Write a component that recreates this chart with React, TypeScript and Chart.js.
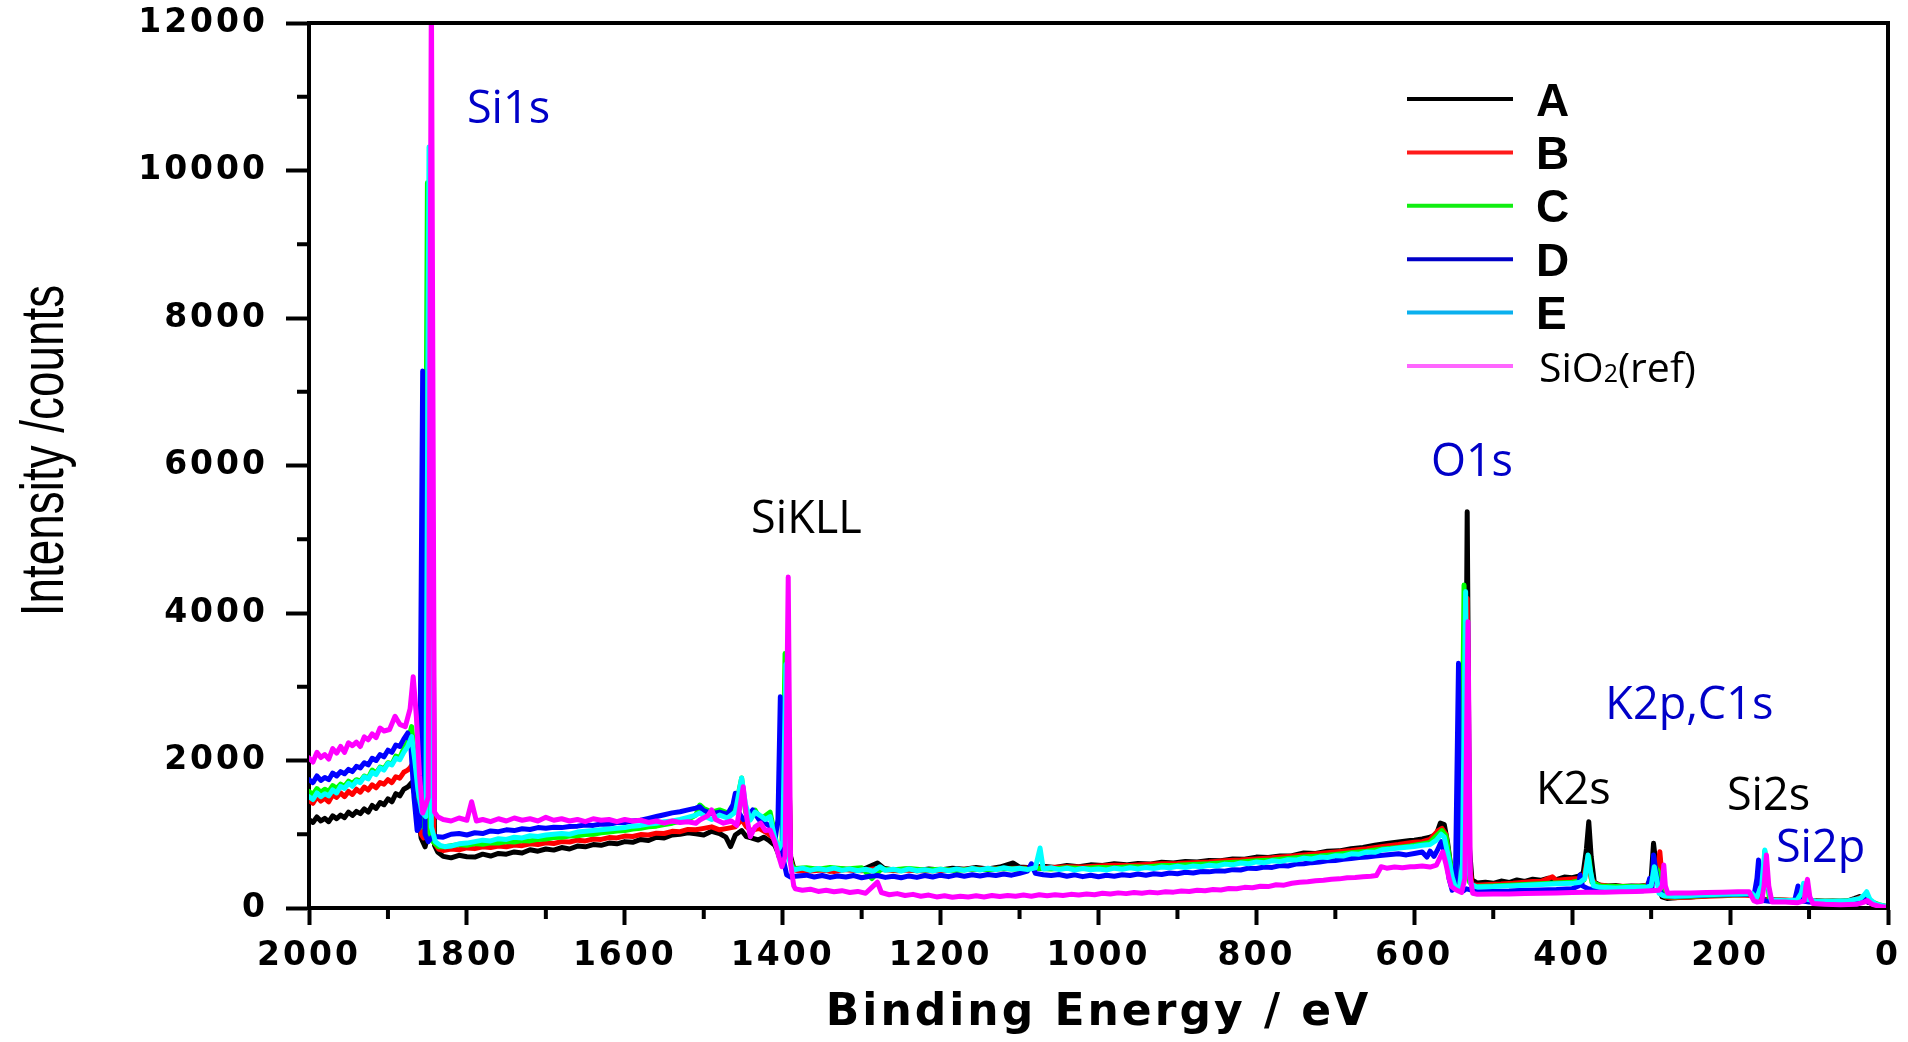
import React, { useEffect, useRef } from 'react';
import { Chart, registerables } from 'chart.js';

Chart.register(...registerables);

// ---------- data (binding energy eV, intensity counts) ----------
const SERIES_NAMES = ['A', 'B', 'C', 'D', 'E', 'SiO2(ref)'];
const SERIES_COLORS = ['#000000', '#ff0000', '#00ff00', '#0000ff', '#00ffff', '#ff00ff'];

const SERIES_A: number[][] = [
  [2000,1200],[1995,1160],[1990,1235],[1985,1180],[1980,1215],[1975,1170],[1970,1250],[1965,1210],[1960,1260],[1955,1225],[1950,1300],[1945,1255],[1940,1310],[1935,1280],[1930,1345],[1925,1300],[1920,1390],[1915,1350],[1910,1430],[1905,1400],[1900,1480],[1895,1440],[1890,1550],[1885,1520],[1880,1610],[1875,1640],[1870,1700],[1864,1450],[1858,950],[1853,830],[1849,1000],[1845,8000],[1841,850],[1837,760],[1830,700],[1820,680],[1810,715],[1800,695],[1790,690],[1780,730],[1770,705],[1760,740],[1750,730],[1740,760],[1730,745],[1720,790],[1710,770],[1700,800],[1690,785],[1680,820],[1670,800],[1660,840],[1650,830],[1640,860],[1630,850],[1620,880],[1610,870],[1600,900],[1590,890],[1580,930],[1570,915],[1560,960],[1550,950],[1540,990],[1530,1000],[1520,1020],[1510,1005],[1500,990],[1490,1040],[1480,1010],[1472,960],[1466,832],[1460,990],[1452,1050],[1446,967],[1440,950],[1431,922],[1424,960],[1418,920],[1410,850],[1404,700],[1398,1000],[1394,3000],[1390,700],[1386,540],[1384,520],
  [1370,510],[1355,530],[1340,500],[1325,530],[1310,515],[1295,540],[1280,610],[1272,540],[1260,515],[1245,525],[1230,505],[1215,530],[1200,515],[1185,540],[1170,525],[1155,550],[1140,530],[1125,555],[1108,610],[1100,555],[1085,545],[1070,565],[1055,550],[1040,575],[1025,560],[1010,585],[995,575],[980,600],[965,585],[950,605],[935,595],[920,620],[905,610],[890,630],[875,625],[860,645],[845,640],[830,665],[815,660],[800,690],[785,685],[770,705],[755,710],[740,745],[725,740],[710,770],[695,775],[680,805],[665,820],[650,850],[635,875],[620,895],[605,915],
  [600,920],[590,935],[580,960],[572,1000],[567,1150],[562,1130],[558,900],[553,500],[548,300],[544,260],[540,240],[536,500],[533,5374],[530,800],[527,380],[522,350],
  [520,340],[510,350],[500,335],[490,365],[480,345],[470,380],[460,360],[450,390],[440,375],[430,405],[420,385],[410,420],[400,410],[392,430],[386,480],[382,800],[379,1170],[376,700],[372,350],[365,310],[355,300],[345,305],[335,290],[325,300],[315,295],[305,310],[300,400],[297,877],[294,600],[290,250],[286,150],[280,130],[270,140],[260,150],[250,150],[240,160],[230,165],[220,175],[210,170],[200,180],[190,185],[180,190],[172,180],[166,120],[160,110],[150,115],[140,110],[130,105],[120,100],[110,100],[100,95],[90,100],[80,90],[70,95],[60,90],[50,100],[42,130],[36,155],[32,110],[25,80],[15,45],[8,25],[0,15],
];

const SERIES_B: number[][] = [
  [2000,1460],[1995,1420],[1990,1510],[1985,1450],[1980,1490],[1975,1440],[1970,1535],[1965,1500],[1960,1560],[1955,1510],[1950,1580],[1945,1540],[1940,1610],[1935,1570],[1930,1640],[1925,1600],[1920,1670],[1915,1630],[1910,1700],[1905,1680],[1900,1740],[1895,1700],[1890,1780],[1885,1760],[1880,1840],[1875,1870],[1872,1900],[1866,2000],[1862,1700],[1858,1000],[1855,950],[1850,1050],[1846,9000],[1842,900],[1836,800],[1830,780],[1820,800],[1810,790],[1800,815],[1790,805],[1780,830],[1770,820],[1760,840],[1750,830],[1740,855],[1730,845],[1720,870],[1710,860],[1700,885],[1690,875],[1680,900],[1670,895],[1660,920],[1650,910],[1640,935],[1630,930],[1620,955],[1610,950],[1600,975],[1590,970],[1580,995],[1570,990],[1560,1015],[1550,1010],[1540,1040],[1530,1035],[1520,1065],[1510,1060],[1500,1080],[1490,1100],[1480,1060],[1470,1080],[1460,1100],[1452,1200],[1446,1100],[1440,1050],[1430,1080],[1420,1020],[1412,950],[1405,750],[1400,700],[1397,900],[1394,3200],[1390,650],[1386,520],
  [1380,505],[1365,500],[1350,515],[1335,495],[1320,520],[1300,505],[1285,530],[1270,520],[1255,505],[1240,515],[1220,500],[1200,510],[1180,520],[1160,530],[1140,525],[1120,535],[1100,540],[1080,545],[1060,550],[1040,560],[1020,555],[1000,570],[980,580],[960,575],[940,590],[920,600],[900,605],[880,615],[860,625],[840,640],[820,650],[800,665],[780,680],[760,700],[740,720],[720,740],[700,760],[680,780],[660,805],[640,835],[620,860],[605,885],
  [600,890],[590,900],[580,930],[570,1050],[565,1080],[560,1000],[555,600],[550,350],[545,280],[540,250],[536,600],[533,4200],[530,600],[527,320],
  [520,310],[505,320],[490,325],[475,335],[460,350],[450,360],[440,360],[425,424],[420,375],[405,390],[392,400],[385,430],[380,700],[376,400],[370,320],[355,300],[340,295],[325,290],[310,300],[300,320],[292,500],[289,763],[286,400],[282,150],[270,140],[250,150],[230,160],[210,165],[190,175],[172,170],[166,130],[160,110],[140,110],[120,105],[100,100],[80,90],[60,92],[50,95],[40,120],[36,140],[30,100],[15,40],[0,15],
];

const SERIES_C: number[][] = [
  [2000,1580],[1995,1540],[1990,1620],[1985,1570],[1980,1610],[1975,1580],[1970,1660],[1965,1620],[1960,1680],[1955,1650],[1950,1720],[1945,1690],[1940,1740],[1935,1720],[1930,1790],[1925,1760],[1920,1870],[1915,1830],[1910,1910],[1905,1890],[1900,1970],[1895,1950],[1890,2060],[1885,2040],[1880,2160],[1875,2250],[1870,2460],[1866,2000],[1861,1400],[1857,1100],[1854,1300],[1850,9835],[1847,1000],[1843,900],[1836,830],[1828,830],[1820,845],[1810,860],[1800,850],[1790,875],[1780,865],[1770,885],[1760,880],[1750,900],[1740,895],[1730,915],[1720,910],[1710,930],[1700,935],[1690,955],[1680,960],[1670,975],[1660,980],[1650,995],[1640,1000],[1630,1020],[1620,1030],[1610,1045],[1600,1050],[1590,1070],[1580,1080],[1570,1100],[1560,1110],[1550,1130],[1540,1150],[1530,1175],[1520,1200],[1510,1260],[1505,1397],[1500,1350],[1490,1300],[1480,1330],[1470,1290],[1460,1350],[1452,1762],[1447,1300],[1441,1200],[1435,1329],[1428,1200],[1422,1250],[1416,1300],[1410,1000],[1405,700],[1401,800],[1397,3450],[1393,800],[1388,560],[1384,535],
  [1370,545],[1355,525],[1340,550],[1320,530],[1300,545],[1287,400],[1275,530],[1260,520],[1240,535],[1220,515],[1200,525],[1180,510],[1160,530],[1140,520],[1120,535],[1100,525],[1080,540],[1060,530],[1040,545],[1020,535],[1000,550],[980,545],[960,560],[940,555],[920,575],[900,580],[880,590],[860,600],[840,615],[820,625],[800,640],[780,650],[760,670],[740,690],[720,705],[700,725],[680,750],[660,770],[640,800],[620,820],[605,840],
  [600,850],[590,870],[580,890],[570,1000],[565,1050],[560,980],[555,650],[550,330],[545,270],[541,300],[537,4380],[534,700],[530,350],[525,300],
  [520,290],[500,300],[480,310],[460,320],[440,330],[420,340],[400,350],[385,380],[379,700],[375,350],[365,300],[340,290],[320,290],[300,300],[295,560],[291,500],[287,300],[283,160],[270,150],[250,160],[230,170],[210,175],[190,180],[172,185],[167,120],[158,300],[156,770],[153,400],[150,110],[120,100],[110,110],[107,300],[104,110],[90,90],[60,90],[40,100],[27,180],[22,90],[10,40],[0,15],
];

const SERIES_D: number[][] = [
  [2000,1740],[1995,1700],[1990,1790],[1985,1730],[1980,1770],[1975,1740],[1970,1830],[1965,1790],[1960,1850],[1955,1820],[1950,1880],[1945,1850],[1940,1920],[1935,1900],[1930,1970],[1925,1940],[1920,2030],[1915,2000],[1910,2080],[1905,2050],[1900,2140],[1895,2110],[1890,2210],[1885,2190],[1880,2290],[1875,2373],[1871,2200],[1867,1500],[1863,1050],[1860,1100],[1856,7280],[1853,1000],[1849,900],[1845,950],[1840,970],[1830,960],[1820,1000],[1810,1010],[1800,990],[1790,1020],[1780,1010],[1770,1045],[1760,1035],[1750,1060],[1740,1050],[1730,1075],[1720,1065],[1710,1090],[1700,1080],[1690,1095],[1680,1090],[1670,1105],[1660,1110],[1650,1125],[1640,1120],[1630,1140],[1620,1135],[1610,1160],[1600,1160],[1590,1180],[1580,1190],[1570,1215],[1560,1240],[1550,1265],[1540,1290],[1530,1305],[1520,1330],[1510,1355],[1505,1374],[1500,1320],[1490,1280],[1480,1300],[1470,1270],[1463,1400],[1460,1555],[1456,1300],[1450,1200],[1444,1250],[1438,1329],[1430,1200],[1422,1150],[1415,1100],[1410,900],[1406,1200],[1403,2865],[1400,700],[1395,450],[1390,420],[1384,430],
  [1370,445],[1360,420],[1350,440],[1340,415],[1330,435],[1320,420],[1310,440],[1300,410],[1290,430],[1280,440],[1270,415],[1260,430],[1250,410],[1240,435],[1230,415],[1220,440],[1210,420],[1200,445],[1190,425],[1180,450],[1170,430],[1160,450],[1150,435],[1140,455],[1130,440],[1120,460],[1110,445],[1100,470],[1090,500],[1085,600],[1080,470],[1070,450],[1060,440],[1050,455],[1040,430],[1030,450],[1020,425],[1010,445],[1000,424],[990,445],[980,430],[970,450],[960,440],[950,460],[940,445],[930,465],[920,455],[910,475],[900,465],[890,485],[880,475],[870,495],[860,490],[850,505],[840,500],[830,520],[820,515],[810,540],[800,535],[790,555],[780,550],[770,575],[760,570],[750,595],[740,600],[730,615],[720,625],[710,640],[700,645],[690,660],[680,670],[670,685],[660,690],[650,705],[640,715],[630,725],[620,735],[610,720],
  [600,740],[590,760],[584,690],[580,770],[575,700],[570,800],[566,900],[560,700],[556,400],[552,240],[548,300],[544,3318],[541,400],[538,230],[534,260],[530,250],[524,230],
  [520,220],[500,225],[480,230],[460,240],[440,245],[420,250],[400,260],[392,300],[390,447],[387,300],[380,260],[370,240],[350,230],[330,230],[310,235],[304,300],[302,400],[299,260],[297,719],[294,500],[290,250],[285,170],[270,160],[250,165],[230,175],[210,180],[190,185],[175,190],[170,150],[166,400],[164,651],[161,300],[158,100],[150,90],[130,90],[118,110],[114,298],[111,100],[100,80],[80,80],[60,80],[40,90],[30,130],[25,80],[10,30],[0,10],
];

const SERIES_E: number[][] = [
  [2000,1510],[1995,1470],[1990,1560],[1985,1510],[1980,1550],[1975,1520],[1970,1600],[1965,1560],[1960,1650],[1955,1620],[1950,1690],[1945,1650],[1940,1720],[1935,1700],[1930,1780],[1925,1750],[1920,1840],[1915,1810],[1910,1900],[1905,1870],[1900,1960],[1895,1940],[1890,2030],[1885,2010],[1880,2110],[1875,2190],[1870,2323],[1866,2000],[1862,1600],[1857,1300],[1852,1238],[1848,10320],[1845,1100],[1840,900],[1834,850],[1828,832],[1820,840],[1810,870],[1800,880],[1790,900],[1780,920],[1770,910],[1760,940],[1750,930],[1740,960],[1730,950],[1720,980],[1710,970],[1700,990],[1690,1000],[1680,1010],[1670,1000],[1660,1030],[1650,1040],[1640,1050],[1630,1060],[1620,1070],[1610,1080],[1600,1090],[1590,1110],[1580,1120],[1570,1140],[1560,1150],[1550,1170],[1540,1180],[1530,1200],[1520,1230],[1510,1260],[1505,1288],[1500,1250],[1490,1200],[1480,1260],[1470,1220],[1460,1300],[1452,1762],[1447,1400],[1441,1193],[1435,1300],[1428,1250],[1422,1200],[1416,1238],[1410,950],[1405,800],[1400,900],[1396,3300],[1393,700],[1388,540],[1384,520],
  [1375,540],[1365,510],[1355,535],[1345,515],[1335,540],[1325,510],[1315,530],[1305,505],[1295,525],[1285,500],[1277,560],[1270,510],[1260,525],[1250,500],[1240,530],[1230,505],[1220,520],[1210,500],[1200,525],[1190,505],[1180,530],[1170,510],[1160,535],[1150,515],[1140,540],[1130,520],[1120,545],[1110,525],[1100,540],[1090,520],[1080,545],[1074,813],[1070,530],[1060,545],[1050,520],[1040,540],[1030,515],[1020,535],[1010,520],[1000,530],[990,515],[980,540],[970,525],[960,545],[950,530],[940,550],[930,535],[920,555],[910,545],[900,565],[890,550],[880,570],[870,560],[860,580],[850,570],[840,595],[830,585],[820,610],[810,600],[800,625],[790,615],[780,640],[770,630],[760,655],[750,650],[740,675],[730,665],[720,690],[710,685],[700,710],[690,705],[680,735],[670,730],[660,760],[650,755],[640,790],[630,800],[620,815],[610,825],
  [600,835],[590,850],[580,860],[572,920],[566,1000],[562,960],[557,700],[552,420],[548,280],[543,260],[539,600],[535,4290],[532,600],[528,320],[522,290],
  [520,285],[500,290],[480,300],[460,310],[440,320],[420,330],[400,334],[390,350],[384,400],[380,719],[377,500],[373,300],[365,280],[345,270],[325,280],[305,285],[300,300],[296,560],[293,400],[290,200],[285,170],[270,160],[250,170],[230,180],[210,185],[190,190],[172,195],[167,130],[160,300],[156,786],[153,350],[148,110],[130,100],[115,110],[110,200],[107,334],[104,120],[90,90],[70,90],[50,100],[35,130],[30,180],[27,221],[23,120],[15,50],[0,15],
];

const SERIES_SIO2: number[][] = [
  [2000,2034],[1995,1980],[1990,2110],[1985,2040],[1980,2080],[1975,2020],[1970,2160],[1965,2100],[1960,2190],[1955,2110],[1950,2240],[1945,2200],[1940,2250],[1935,2190],[1930,2320],[1925,2280],[1920,2360],[1915,2310],[1910,2440],[1905,2400],[1898,2420],[1891,2600],[1885,2490],[1878,2460],[1872,2700],[1868,3136],[1864,2600],[1860,1800],[1856,1288],[1852,1400],[1849,1500],[1845,12500],[1841,1300],[1837,1238],[1830,1200],[1820,1180],[1810,1220],[1800,1190],[1794,1441],[1788,1180],[1780,1200],[1770,1170],[1760,1210],[1750,1180],[1740,1220],[1730,1190],[1720,1210],[1710,1180],[1700,1230],[1690,1190],[1680,1210],[1670,1180],[1660,1200],[1650,1170],[1640,1210],[1630,1190],[1620,1200],[1610,1170],[1600,1200],[1590,1180],[1580,1190],[1570,1160],[1560,1180],[1550,1150],[1540,1180],[1530,1160],[1520,1170],[1510,1150],[1505,1193],[1495,1250],[1490,1330],[1485,1200],[1475,1150],[1465,1180],[1458,1120],[1450,1645],[1446,1250],[1441,967],[1435,1100],[1428,1150],[1422,1050],[1416,1058],[1410,900],[1405,700],[1401,560],[1397,700],[1393,4488],[1390,600],[1386,300],
  [1384,260],[1375,240],[1365,255],[1355,225],[1345,240],[1335,220],[1325,235],[1315,210],[1305,225],[1295,200],[1280,350],[1275,210],[1265,180],[1255,195],[1245,170],[1235,185],[1225,160],[1215,175],[1205,150],[1195,165],[1185,145],[1175,160],[1165,150],[1155,165],[1145,150],[1135,170],[1125,155],[1115,170],[1105,160],[1095,175],[1085,160],[1075,180],[1065,165],[1055,180],[1045,170],[1035,185],[1025,175],[1015,190],[1005,180],[995,200],[985,190],[975,205],[965,195],[955,210],[945,200],[935,215],[925,205],[915,220],[905,215],[895,230],[885,225],[875,240],[865,235],[855,250],[845,245],[835,265],[825,260],[815,280],[805,275],[795,295],[785,290],[775,315],[765,310],[755,335],[745,350],[735,355],[725,370],[715,375],[705,390],[695,395],[685,410],[675,415],[665,425],[655,430],[648,440],[642,560],[635,540],[625,555],[615,545],[605,560],
  [600,560],[590,570],[580,555],[572,580],[564,763],[560,600],[556,400],[553,290],[548,250],[544,230],[540,210],[536,400],[532,3882],[529,400],[526,200],
  [520,185],[500,190],[480,190],[460,195],[440,200],[420,205],[400,210],[380,215],[360,215],[340,220],[320,225],[300,235],[290,240],[286,300],[284,583],[282,300],[279,200],[270,205],[250,205],[230,210],[210,215],[190,220],[176,220],[170,100],[166,80],[160,90],[157,300],[154,719],[151,300],[147,80],[130,80],[115,70],[106,100],[104,300],[102,389],[99,150],[95,60],[80,50],[60,45],[40,50],[30,80],[26,100],[20,50],[10,20],[0,5],
];

const SERIES = [SERIES_A, SERIES_B, SERIES_C, SERIES_D, SERIES_E, SERIES_SIO2];

// axis ticks & titles
const X_MIN = 0, X_MAX = 2000, X_STEP = 200;
const Y_MIN = 0, Y_MAX = 12000, Y_STEP = 2000;
const X_MINOR = [100, 300, 500, 700, 900, 1100, 1300, 1500, 1700, 1900];
const Y_MINOR = [1000, 3000, 5000, 7000, 9000, 11000];
const X_TITLE = 'Binding Energy / eV';
const Y_TITLE = 'Intensity /counts';

// legend
const LEGEND_LABELS = ['A', 'B', 'C', 'D', 'E'];
const LEGEND_COLORS = ['#000000', '#ff1a1a', '#11ee11', '#0000c8', '#0ab0ee', '#ff66ff'];

// peak annotations (left/baseline anchor in data coordinates)
const PEAK_LABELS = ['Si1s', 'SiKLL', 'O1s', 'K2p,C1s', 'K2s', 'Si2s', 'Si2p'];
const PEAK_E = [1800, 1440, 579, 358, 446, 204, 142];
const PEAK_I = [10644, 5085, 5858, 2563, 1410, 1329, 624];
const PEAK_COLORS = ['#0000c8', '#000000', '#0000c8', '#0000c8', '#000000', '#000000', '#0000c8'];

const W = 1908;
const H = 1042;

const overlayPlugin = {
  id: 'xpsOverlay',
  beforeDraw(chart: any) {
    // wide, spaced-out axis lettering like the original figure
    try { chart.ctx.letterSpacing = '3px'; } catch (e) { /* ignore */ }
  },
  beforeDatasetsDraw(chart: any) {
    try { chart.ctx.letterSpacing = '0px'; } catch (e) { /* ignore */ }
  },
  afterDraw(chart: any) {
    const ctx = chart.ctx as any;
    try { ctx.letterSpacing = '0px'; } catch (e) { /* ignore */ }
    ctx.save();
    const xs = chart.scales.x;
    const ys = chart.scales.y;
    const left = xs.getPixelForValue(X_MAX);
    const right = xs.getPixelForValue(X_MIN);
    const top = ys.getPixelForValue(Y_MAX);
    const bottom = ys.getPixelForValue(Y_MIN);

    // frame (top & right)
    ctx.strokeStyle = '#000';
    ctx.lineWidth = 4;
    ctx.lineCap = 'butt';
    ctx.beginPath();
    ctx.moveTo(left - 2, top);
    ctx.lineTo(right, top);
    ctx.lineTo(right, bottom + 2);
    ctx.stroke();

    // minor ticks
    ctx.beginPath();
    for (const e of X_MINOR) {
      const x = xs.getPixelForValue(e);
      ctx.moveTo(x, bottom);
      ctx.lineTo(x, bottom + 11);
    }
    for (const v of Y_MINOR) {
      const y = ys.getPixelForValue(v);
      ctx.moveTo(left, y);
      ctx.lineTo(left - 12, y);
    }
    ctx.stroke();

    // y axis title (condensed lettering)
    ctx.save();
    ctx.fillStyle = '#000';
    ctx.font = '62px "Liberation Sans", Arial, sans-serif';
    ctx.textAlign = 'center';
    ctx.textBaseline = 'alphabetic';
    ctx.translate(63, (top + bottom) / 2 - 15);
    ctx.rotate(-Math.PI / 2);
    ctx.scale(0.74, 1);
    ctx.fillText(Y_TITLE, 0, 0);
    ctx.restore();

    // legend
    const lineX0 = right - 481;
    const lineX1 = right - 375;
    const textX = right - 352;
    const rowY0 = top + 76;
    const rowGap = 53.4;
    for (let i = 0; i < 6; i++) {
      const y = rowY0 + i * rowGap;
      ctx.strokeStyle = LEGEND_COLORS[i];
      ctx.lineWidth = 4;
      ctx.beginPath();
      ctx.moveTo(lineX0, y);
      ctx.lineTo(lineX1, y);
      ctx.stroke();
      ctx.fillStyle = '#000';
      ctx.textBaseline = 'alphabetic';
      ctx.textAlign = 'left';
      if (i < 5) {
        ctx.font = 'bold 46px "Liberation Sans", Arial, sans-serif';
        ctx.fillText(LEGEND_LABELS[i], textX, y + 16.5);
      } else {
        let x = textX + 3;
        const base = y + 16;
        ctx.font = '41px "Open Sans", sans-serif';
        ctx.fillText('SiO', x, base);
        x += ctx.measureText('SiO').width;
        ctx.font = '25px "Open Sans", sans-serif';
        ctx.fillText('2', x, base);
        x += ctx.measureText('2').width;
        ctx.font = '41px "Open Sans", sans-serif';
        ctx.fillText('(ref)', x, base);
      }
    }

    // peak labels
    ctx.font = '45px "Open Sans", sans-serif';
    ctx.textAlign = 'left';
    ctx.textBaseline = 'alphabetic';
    for (let i = 0; i < PEAK_LABELS.length; i++) {
      ctx.fillStyle = PEAK_COLORS[i];
      ctx.fillText(PEAK_LABELS[i], xs.getPixelForValue(PEAK_E[i]), ys.getPixelForValue(PEAK_I[i]));
    }
    ctx.restore();
  },
};

export default function App() {
  const ref = useRef<HTMLCanvasElement>(null);

  useEffect(() => {
    document.body.style.margin = '0';
    document.body.style.overflow = 'hidden';
    const canvas = ref.current;
    if (!canvas) return;

    const datasets = SERIES.map((s, i) => ({
      label: SERIES_NAMES[i],
      data: s.map(([x, y]) => ({ x, y })),
      borderColor: SERIES_COLORS[i],
      backgroundColor: SERIES_COLORS[i],
      borderWidth: 5,
      pointRadius: 0,
      pointHoverRadius: 0,
      tension: 0,
      fill: false,
      order: 5 - i,
      borderJoinStyle: 'round' as const,
      borderCapStyle: 'round' as const,
    }));

    const tickFont = { family: '"DejaVu Sans", sans-serif', weight: 'bold' as const, size: 33 };
    const noPad = (s: any) => {
      s.paddingTop = 0;
      s.paddingBottom = 0;
      s.paddingLeft = 0;
      s.paddingRight = 0;
    };

    const chart = new Chart(canvas, {
      type: 'line',
      data: { datasets },
      options: {
        animation: false,
        responsive: false,
        devicePixelRatio: 1,
        events: [],
        layout: { padding: { top: 23, right: 20, bottom: 0, left: 0 } },
        plugins: {
          legend: { display: false },
          tooltip: { enabled: false },
        },
        scales: {
          x: {
            type: 'linear',
            position: 'bottom',
            reverse: true,
            min: X_MIN,
            max: X_MAX,
            afterFit: (s: any) => { s.height = 134; noPad(s); },
            grid: {
              display: true,
              drawOnChartArea: false,
              drawTicks: true,
              tickLength: 17,
              tickWidth: 4,
              color: '#000',
              tickColor: '#000',
            },
            border: { display: true, color: '#000', width: 4 },
            ticks: {
              stepSize: X_STEP,
              autoSkip: false,
              maxRotation: 0,
              padding: 12,
              color: '#000',
              font: tickFont,
              callback: (v: any) => String(v),
            },
            title: {
              display: true,
              text: X_TITLE,
              color: '#000',
              font: { family: '"DejaVu Sans", sans-serif', weight: 'bold', size: 44 },
              padding: { top: 0, bottom: 2 },
            },
          },
          y: {
            type: 'linear',
            position: 'left',
            min: Y_MIN,
            max: Y_MAX,
            afterFit: (s: any) => { s.width = 309; noPad(s); },
            grid: {
              display: true,
              drawOnChartArea: false,
              drawTicks: true,
              tickLength: 23,
              tickWidth: 4,
              color: '#000',
              tickColor: '#000',
            },
            border: { display: true, color: '#000', width: 4 },
            ticks: {
              stepSize: Y_STEP,
              padding: 18,
              color: '#000',
              font: tickFont,
              callback: (v: any) => String(v),
            },
            title: { display: false, text: Y_TITLE },
          },
        },
      } as any,
      plugins: [overlayPlugin],
    });

    return () => {
      chart.destroy();
    };
  }, []);

  return (
    <div style={{ width: W, height: H, overflow: 'hidden', background: '#fff' }}>
      <canvas ref={ref} width={W} height={H} style={{ display: 'block', width: W, height: H }} />
    </div>
  );
}
